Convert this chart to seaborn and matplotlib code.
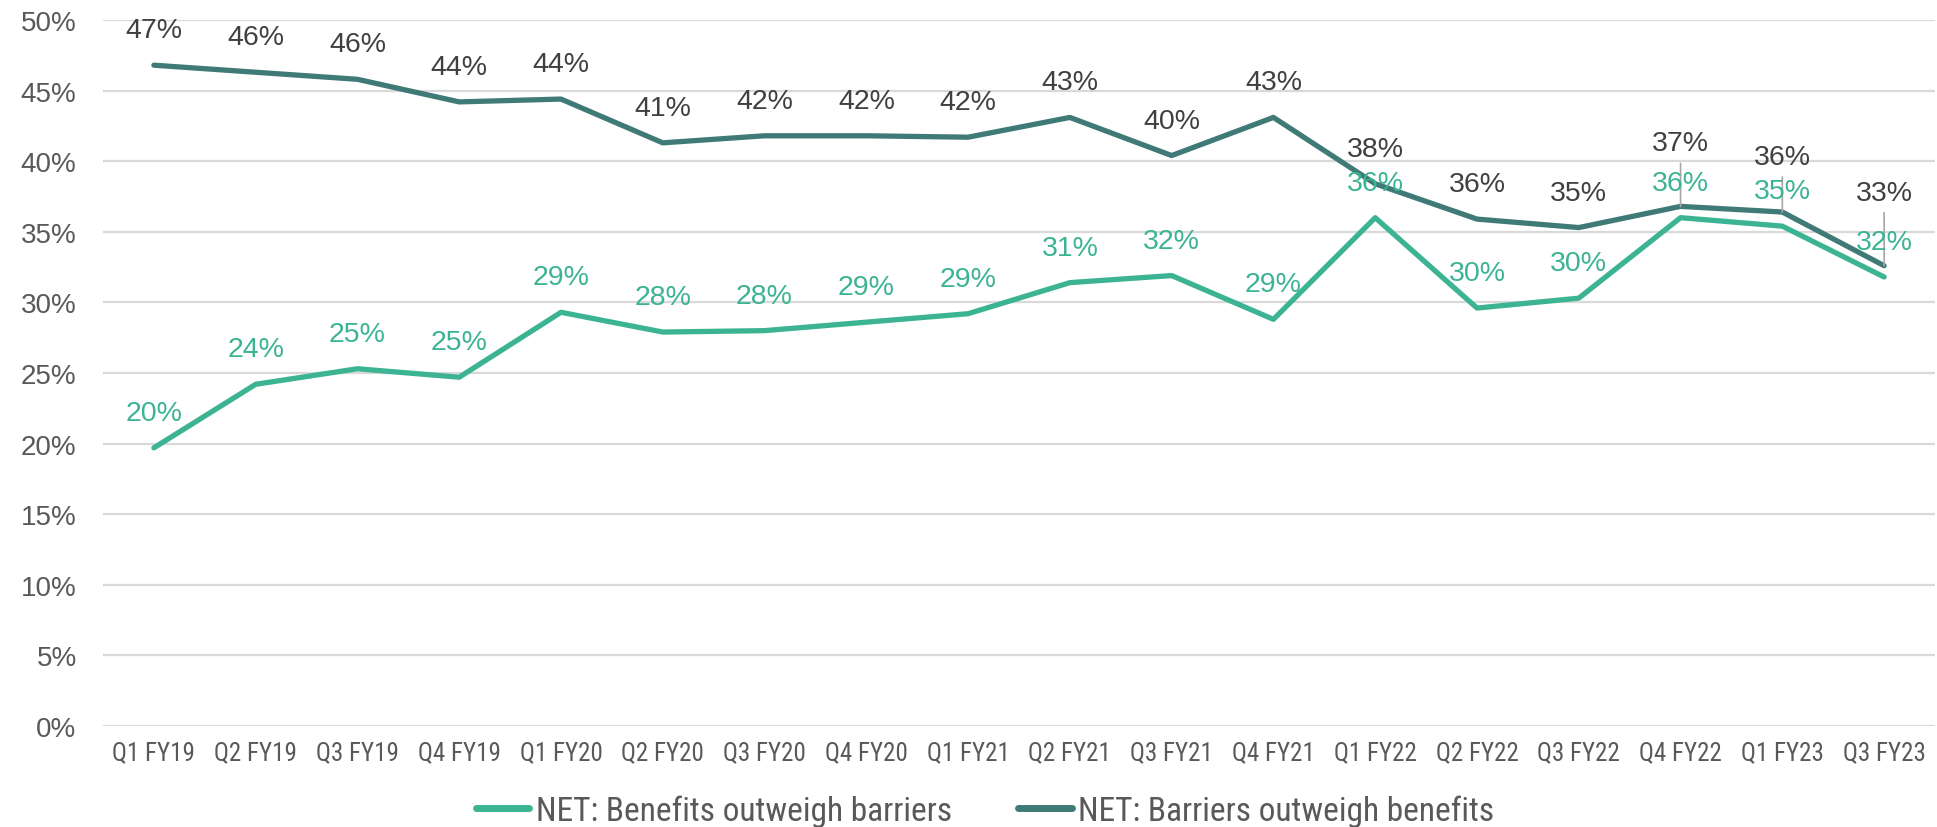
import pandas as pd
import numpy as np
import seaborn as sns
import matplotlib.pyplot as plt
from matplotlib.ticker import FuncFormatter, MultipleLocator

quarters = ['Q1 FY19', 'Q2 FY19', 'Q3 FY19', 'Q4 FY19', 'Q1 FY20', 'Q2 FY20',
            'Q3 FY20', 'Q4 FY20', 'Q1 FY21', 'Q2 FY21', 'Q3 FY21', 'Q4 FY21',
            'Q1 FY22', 'Q2 FY22', 'Q3 FY22', 'Q4 FY22', 'Q1 FY23', 'Q3 FY23']
benefits = [19.7, 24.2, 25.3, 24.7, 29.3, 27.9, 28.0, 28.6, 29.2, 31.4, 31.9, 28.8,
            36.0, 29.6, 30.3, 36.0, 35.4, 31.8]
barriers = [46.8, 46.3, 45.8, 44.2, 44.4, 41.3, 41.8, 41.8, 41.7, 43.1, 40.4, 43.1,
            38.4, 35.9, 35.3, 36.8, 36.4, 32.6]
series_names = ['NET: Benefits outweigh barriers', 'NET: Barriers outweigh benefits']

# label lift in pixels above the point (the last three dark labels sit higher, with a leader line)
barrier_lift = [35] * 15 + [63, 55, 73]
benefit_lift = [35] * 18

GREEN = '#3cb493'
TEAL = '#407a77'
COND = ['Roboto Condensed', 'DejaVu Sans']

df = pd.DataFrame({
    'Quarter': quarters * 2,
    'Value': benefits + barriers,
    'Series': [series_names[0]] * len(quarters) + [series_names[1]] * len(quarters),
})

sns.set_theme(style='white')
plt.rcParams['font.family'] = ['Liberation Sans', 'DejaVu Sans']

fig = plt.figure(figsize=(19.37, 8.28), dpi=100)
ax = fig.add_axes([103 / 1937, 1 - 727 / 828, 1832 / 1937, 706 / 828])

sns.lineplot(data=df, x='Quarter', y='Value', hue='Series', sort=False,
             palette=[GREEN, TEAL], linewidth=3.8, ax=ax)
for ln in ax.lines:
    ln.set_solid_capstyle('round')

ax.set_xlim(-0.5, len(quarters) - 0.5)
ax.set_ylim(0, 50)
ax.yaxis.set_major_locator(MultipleLocator(5))
ax.yaxis.set_major_formatter(FuncFormatter(lambda v, p: f'{v:.0f}%'))
ax.grid(axis='y', color='#d9d9d9', linewidth=1.6)
ax.grid(axis='x', visible=False)
ax.set_axisbelow(True)
for s in ax.spines.values():
    s.set_visible(False)
ax.set_xlabel('')
ax.set_ylabel('')
ax.tick_params(axis='y', length=0, pad=19, labelsize=20, labelcolor='#595959')
ax.tick_params(axis='x', length=0, pad=10, labelsize=18, labelcolor='#595959')
for t in ax.get_xticklabels():
    t.set_fontfamily(COND)

# data labels
for i, (v, lift) in enumerate(zip(barriers, barrier_lift)):
    ax.annotate(f'{v:.0f}%', (i, v), xytext=(0, lift), textcoords='offset pixels',
                ha='center', va='center', fontsize=20.5, color='#404040',
                annotation_clip=False)
    if lift > 40:
        ax.annotate('', (i, v), xytext=(0, lift - 20), textcoords='offset pixels',
                    arrowprops=dict(arrowstyle='-', color='#a6a6a6', lw=1.2,
                                    shrinkA=0, shrinkB=0))
for i, (v, lift) in enumerate(zip(benefits, benefit_lift)):
    ax.annotate(f'{v:.0f}%', (i, v), xytext=(0, lift), textcoords='offset pixels',
                ha='center', va='center', fontsize=20.5, color=GREEN,
                annotation_clip=False)

leg = ax.legend(loc='center', bbox_to_anchor=(985 / 1937, 0.02),
                bbox_transform=fig.transFigure, ncol=2, frameon=False,
                prop={'family': COND, 'size': 24}, handlelength=1.6,
                handletextpad=0.2, columnspacing=2.0)
for t in leg.get_texts():
    t.set_color('#595959')
for h in leg.get_lines():
    h.set_linewidth(5)
    h.set_solid_capstyle('round')

fig.savefig('out.png', dpi=100)
